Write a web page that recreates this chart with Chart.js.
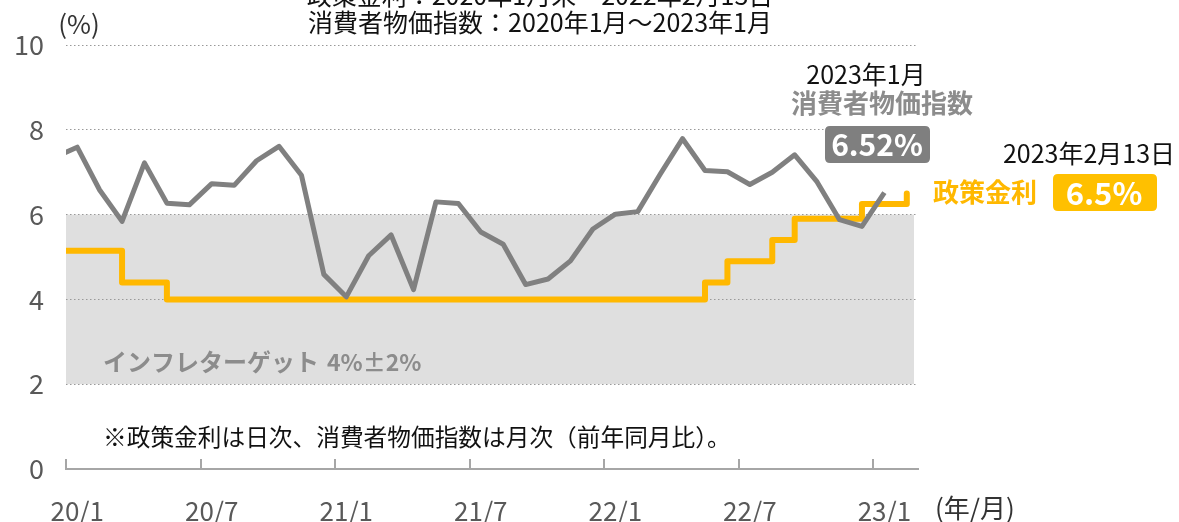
<!DOCTYPE html>
<html>
<head>
<meta charset="utf-8">
<script src="https://cdn.jsdelivr.net/npm/chart.js@4.4.1/dist/chart.umd.min.js"></script>
<style>
  html, body { margin: 0; padding: 0; background: #ffffff; }
  #c { display: block; }
</style>
</head>
<body>
<canvas id="c" width="1179" height="522"></canvas>
<script>
// ---- data (x = months since 2020/01, points plotted at mid-month) ----
// CPI (YoY, %), monthly 2019/12 .. 2023/01
const cpiMonths = [-1,0,1,2,3,4,5,6,7,8,9,10,11,12,13,14,15,16,17,18,19,20,21,22,23,24,25,26,27,28,29,30,31,32,33,34,35,36];
const cpiValues = [7.35,7.59,6.58,5.84,7.22,6.27,6.23,6.73,6.69,7.27,7.61,6.93,4.59,
                   4.06,5.03,5.52,4.23,6.30,6.26,5.59,5.30,4.35,4.48,4.91,5.66,
                   6.01,6.07,6.95,7.79,7.04,7.01,6.71,7.00,7.41,6.77,5.88,5.72,6.52];
// Policy rate (%), month-end 2019/12 .. 2023/02 (2023/02/13)
const rateMonths = [-1,0,1,2,3,4,5,6,7,8,9,10,11,12,13,14,15,16,17,18,19,20,21,22,23,24,25,26,27,28,29,30,31,32,33,34,35,36,37];
const rateValues = [5.15,5.15,5.15,4.40,4.40,4.00,4.00,4.00,4.00,4.00,4.00,4.00,4.00,
                    4.00,4.00,4.00,4.00,4.00,4.00,4.00,4.00,4.00,4.00,4.00,4.00,
                    4.00,4.00,4.00,4.00,4.40,4.90,4.90,5.40,5.90,5.90,5.90,6.25,6.25,6.50];
const xTickMonths = [0,6,12,18,24,30,36];
const xTickLabels = ['20/1','20/7','21/1','21/7','22/1','22/7','23/1'];
const yTicks = [0,2,4,6,8,10];
const targetLow = 2, targetHigh = 6;

const FONT = "'Noto Sans CJK JP', 'Noto Sans', sans-serif";
const GRAY_LINE = '#808080';
const ORANGE = '#FFB800';

const bgAndBand = {
  id: 'bgAndBand',
  beforeDraw(chart) {
    const {ctx, chartArea: a, scales: {y}} = chart;
    ctx.save();
    ctx.fillStyle = '#ffffff';
    ctx.fillRect(0, 0, chart.width, chart.height);
    const yTop = y.getPixelForValue(targetHigh);
    const yBot = y.getPixelForValue(targetLow);
    ctx.fillStyle = '#dfdfdf';
    ctx.fillRect(a.left, yTop, a.right - a.left - 4, yBot - yTop);
    ctx.restore();
  }
};

function roundRect(ctx, x, y, w, h, r) {
  ctx.beginPath();
  ctx.moveTo(x + r, y);
  ctx.lineTo(x + w - r, y);
  ctx.quadraticCurveTo(x + w, y, x + w, y + r);
  ctx.lineTo(x + w, y + h - r);
  ctx.quadraticCurveTo(x + w, y + h, x + w - r, y + h);
  ctx.lineTo(x + r, y + h);
  ctx.quadraticCurveTo(x, y + h, x, y + h - r);
  ctx.lineTo(x, y + r);
  ctx.quadraticCurveTo(x, y, x + r, y);
  ctx.closePath();
}

const annotations = {
  id: 'annotations',
  afterDraw(chart) {
    const {ctx, chartArea: a, scales: {x}} = chart;
    ctx.save();
    // upward tick marks on x axis at month boundaries
    ctx.strokeStyle = '#a6a6a6';
    ctx.lineWidth = 2;
    xTickMonths.forEach(m => {
      const px = Math.round(x.getPixelForValue(m));
      ctx.beginPath();
      ctx.moveTo(px, a.bottom);
      ctx.lineTo(px, a.bottom - 10);
      ctx.stroke();
    });

    ctx.textBaseline = 'middle';
    const text = (s, px, py, size, color, bold, align) => {
      ctx.font = (bold ? 'bold ' : '') + size + 'px ' + FONT;
      ctx.fillStyle = color;
      ctx.textAlign = align || 'center';
      ctx.fillText(s, px, py);
    };
    // titles
    text('政策金利：2020年1月末～2022年2月13日', 540, -5, 25, '#111111', false);
    text('消費者物価指数：2020年1月～2023年1月', 540, 22, 25, '#111111', false);
    text('(%)', 79, 24, 26, '#333333', false);
    text('(年/月)', 935, 508, 26, '#333333', false, 'left');

    // CPI annotation
    text('2023年1月', 866, 74, 25, '#111111', false);
    text('消費者物価指数', 882, 103, 26, '#8c8c8c', true);
    ctx.fillStyle = '#7f7f7f';
    roundRect(ctx, 825, 126, 105, 37, 5); ctx.fill();
    text(cpiValues[cpiValues.length - 1].toFixed(2) + '%', 877, 145, 30, '#ffffff', true);

    // policy rate annotation
    text('2023年2月13日', 1089, 153, 25, '#111111', false);
    text('政策金利', 985, 192, 26, ORANGE, true);
    ctx.fillStyle = '#FFC000';
    roundRect(ctx, 1053, 174, 104, 37, 5); ctx.fill();
    text(rateValues[rateValues.length - 1].toFixed(1) + '%', 1104, 193, 31, '#ffffff', true);

    // band label and footnote
    text('インフレターゲット', 103, 362, 24, '#8c8c8c', true, 'left');
    text('4%±2%', 327, 362, 23, '#8c8c8c', true, 'left');
    text('※政策金利は日次、消費者物価指数は月次（前年同月比）。', 103, 437, 23.7, '#111111', false, 'left');
    ctx.restore();
  }
};

new Chart(document.getElementById('c'), {
  type: 'line',
  data: {
    datasets: [
      {
        label: '消費者物価指数',
        data: cpiMonths.map((m, i) => ({x: m + 0.5, y: cpiValues[i]})),
        borderColor: GRAY_LINE,
        borderWidth: 5,
        pointRadius: 0,
        tension: 0,
        borderJoinStyle: 'round'
      },
      {
        label: '政策金利',
        data: rateMonths.map((m, i) => ({x: m + 0.5, y: rateValues[i]})),
        stepped: 'before',
        borderColor: ORANGE,
        borderWidth: 6,
        pointRadius: 0,
        borderJoinStyle: 'round',
        borderCapStyle: 'round'
      }
    ]
  },
  options: {
    responsive: false,
    animation: false,
    events: [],
    layout: { padding: { top: 45, right: 261, left: 0, bottom: 0 } },
    plugins: { legend: { display: false }, tooltip: { enabled: false }, title: { display: false } },
    scales: {
      x: {
        type: 'linear',
        min: 0,
        max: 38,
        afterBuildTicks: s => { s.ticks = xTickMonths.map(m => ({value: m + 0.5})); },
        afterFit: s => { s.height = 53; },
        grid: { display: false, drawTicks: false },
        border: { display: true, color: '#a6a6a6', width: 2 },
        ticks: {
          autoSkip: false, maxRotation: 0, padding: 27,
          color: '#595959',
          font: { family: FONT, size: 26 },
          callback: (v, i) => xTickLabels[i]
        }
      },
      y: {
        min: 0,
        max: 10,
        afterBuildTicks: s => { s.ticks = yTicks.map(v => ({value: v})); },
        afterFit: s => { s.width = 66; },
        grid: {
          drawTicks: false,
          lineWidth: 1,
          color: c => c.tick && c.tick.value === 0 ? 'rgba(0,0,0,0)' : '#999999'
        },
        border: { display: false, dash: [1.5, 2.5] },
        ticks: {
          padding: 22,
          color: '#595959',
          font: { family: FONT, size: 27 },
          callback: v => String(v)
        }
      }
    }
  },
  plugins: [bgAndBand, annotations]
});
</script>
</body>
</html>
